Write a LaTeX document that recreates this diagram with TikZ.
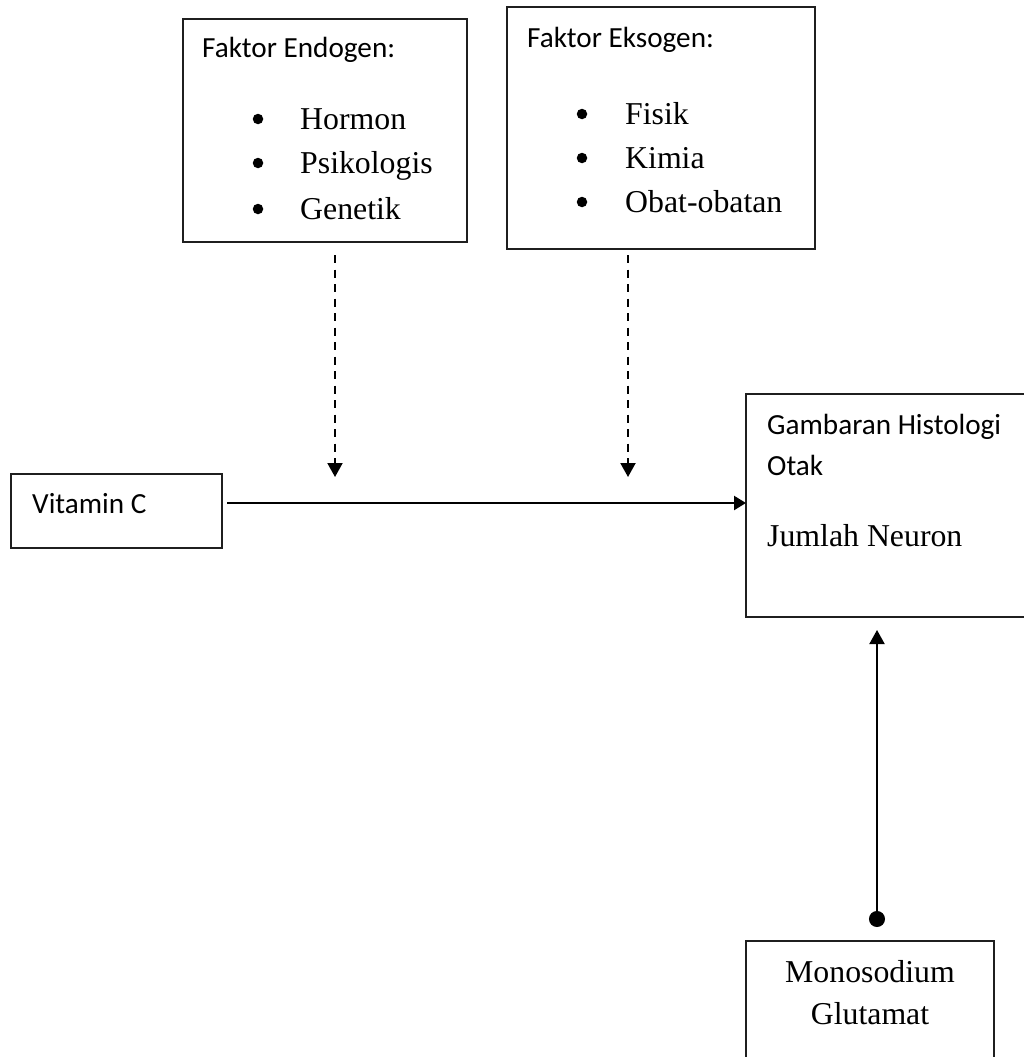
\documentclass[tikz,border=0pt]{standalone}
\usepackage{fontspec}
\setmainfont{Liberation Serif}
\newfontfamily\calfont{Carlito}
\usetikzlibrary{arrows.meta}
\begin{document}
\begin{tikzpicture}[x=1pt,y=-1pt,
  box/.style={draw=black!88, line width=2pt, inner sep=0pt, outer sep=0pt, anchor=north west},
  cal/.style={font=\calfont\fontsize{29.2}{35}\selectfont, anchor=base west, inner sep=0pt},
  tms/.style={font=\fontsize{31.8}{38}\selectfont, anchor=base west, inner sep=0pt},
  bul/.style={circle, fill=black, inner sep=0pt, minimum size=10.5pt},
  conn/.style={line width=2pt, black},
  dasharrow/.style={conn, dash pattern=on 8pt off 6.5pt, -{Triangle[length=14pt,width=15pt]}},
  solidarrow/.style={conn, line width=2.3pt, -{Triangle[length=12pt,width=14pt]}},
  dotarrow/.style={conn, {Circle[length=16pt]}-{Triangle[length=14pt,width=15pt]}}]
\useasboundingbox (0,0) rectangle (1024,1057);

% boxes
\node[box, minimum width=284pt, minimum height=223pt] (endo) at (183,19) {};
\node[box, minimum width=308pt, minimum height=242pt] (ekso) at (507,7) {};
\node[box, minimum width=211pt, minimum height=74pt] (vit) at (11,474) {};
\node[box, minimum width=300pt, minimum height=223pt] (gam) at (746,394) {};
\node[box, minimum width=248pt, minimum height=140pt] (mono) at (746,941) {};

% Endogen texts
\node[cal] (endot) at (202,58) {Faktor Endogen:};
\node[bul] (eb1) at (258,119) {};
\node[bul] (eb2) at (258,163) {};
\node[bul] (eb3) at (258,209) {};
\node[tms] (e1) at (300,129) {Hormon};
\node[tms] (e2) at (300,173) {Psikologis};
\node[tms] (e3) at (300,219) {Genetik};

% Eksogen texts
\node[cal] (eksot) at (527,48) {Faktor Eksogen:};
\node[bul] (xb1) at (582,114) {};
\node[bul] (xb2) at (582,158) {};
\node[bul] (xb3) at (582,202) {};
\node[tms] (x1) at (625,124) {Fisik};
\node[tms] (x2) at (625,168) {Kimia};
\node[tms] (x3) at (625,212) {Obat-obatan};

% other texts
\node[cal] (vitt) at (32,513) {Vitamin C};
\node[cal] (gam1) at (767,434) {Gambaran Histologi};
\node[cal] (gam2) at (767,475) {Otak};
\node[tms] (gam3) at (767,546) {Jumlah Neuron};
\node[tms, anchor=base] (mono1) at (870,982) {Monosodium};
\node[tms, anchor=base] (mono2) at (870,1024) {Glutamat};

% connector coordinates
\coordinate (d1) at (335,477);
\coordinate (d2) at (628,477);
\coordinate (h) at (746,503);
\coordinate (u) at (877,0);

\draw[dasharrow, shorten <=13pt] (endo.south -| d1) -- (d1);
\draw[dasharrow, shorten <=6pt] (ekso.south -| d2) -- (d2);
\draw[solidarrow, shorten <=5pt] (vit.east |- h) -- (gam.west |- h);
\draw[dotarrow, shorten <=14pt, shorten >=13pt] (mono.north -| u) -- (gam.south -| u);
\end{tikzpicture}
\end{document}
